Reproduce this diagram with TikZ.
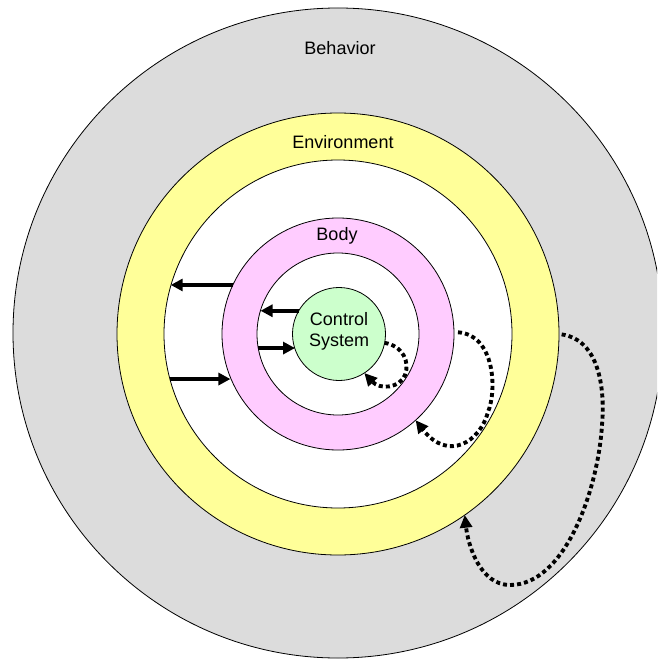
\documentclass[tikz,border=0pt]{standalone}
\usepackage{fontspec}
\setmainfont{Liberation Sans}
\usetikzlibrary{arrows.meta}
\definecolor{behgray}{HTML}{DCDCDC}
\definecolor{envyellow}{HTML}{FFFF99}
\definecolor{bodypink}{HTML}{FFCCFF}
\definecolor{ctrlgreen}{HTML}{CCFFCC}
\begin{document}
\begin{tikzpicture}[x=0.75pt,y=-0.75pt,
  ring/.style={circle,draw=black,line width=0.6pt,inner sep=0pt,outer sep=0pt},
  lbl/.style={font=\fontsize{13.5pt}{15.75pt}\selectfont,inner sep=0pt,align=center},
  solidarrow/.style={line width=3pt,-{Triangle[length=9pt,width=9pt]}},
  dotarrow/.style={line width=2.9pt,dash pattern=on 3pt off 2.3pt,-{Triangle[length=9.5pt,width=9pt]}}]
\useasboundingbox (0,0) rectangle (657,659);
\clip (0,0) rectangle (657,659);
\fill[white] (0,0) rectangle (657,659);
% rings
\node[ring,fill=behgray,minimum size=487.5pt] (beh) at (338,333) {};
\node[ring,fill=envyellow,minimum size=331.5pt] (env) at (338,334) {};
\node[ring,fill=white,minimum size=261pt] (envin) at (338,334) {};
\node[ring,fill=bodypink,minimum size=174pt] (body) at (338,334) {};
\node[ring,fill=white,minimum size=121.5pt] (bodyin) at (338,334) {};
\node[ring,fill=ctrlgreen,minimum size=69.75pt] (ctrl) at (339,334) {};
% labels
\node[lbl] (behlbl) at (340,48) {Behavior};
\node[lbl] (envlbl) at (343,142) {Environment};
\node[lbl] (bodylbl) at (337,236) {Body};
\node[lbl] (ctrllbl) at (339,331) {Control\\System};
% solid arrows
\draw[solidarrow] (body.155.6) -- (body.155.6 -| envin.164);
\draw[solidarrow] (ctrl.150) -- (ctrl.150 -| bodyin.163.5);
\draw[solidarrow] (bodyin.190.7) -- (bodyin.190.7 -| ctrl.199);
\draw[solidarrow] (envin.195) -- (envin.195 -| body.202.8);
% dotted feedback arrows
\draw[dotarrow] (ctrl.-11) .. controls (403,346) and (410,362) .. (405,375)
  .. controls (400,388) and (380,390) .. (ctrl.-57);
\draw[dotarrow,shorten <=3pt] (body.1) .. controls (495,335) and (497,390) .. (488,412)
  .. controls (480,442) and (448,462) .. (body.-48);
\draw[dotarrow,shorten <=2pt] (env.0) .. controls (600,340) and (605,390) .. (602,425)
  .. controls (598,490) and (565,585) .. (510,585)
  .. controls (480,585) and (468,545) .. (env.-55);
\end{tikzpicture}
\end{document}
